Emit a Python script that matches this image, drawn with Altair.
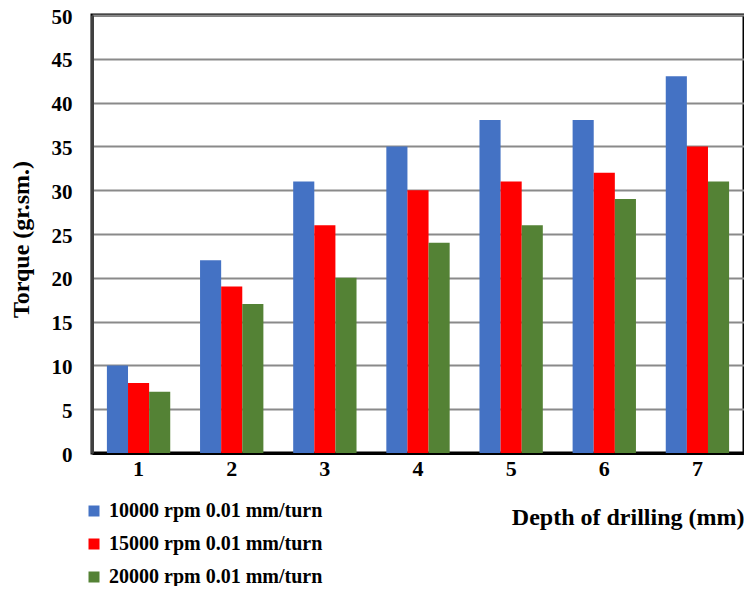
import altair as alt
import pandas as pd

depths = ["1", "2", "3", "4", "5", "6", "7"]
series_names = ["10000 rpm 0.01 mm/turn", "15000 rpm 0.01 mm/turn", "20000 rpm 0.01 mm/turn"]
s10000 = [10, 22, 31, 35, 38, 38, 43]
s15000 = [8, 19, 26, 30, 31, 32, 35]
s20000 = [7, 17, 20, 24, 26, 29, 31]
colors = ["#4472C4", "#FF0000", "#548235"]

rows = []
for name, vals in zip(series_names, [s10000, s15000, s20000]):
    for d, v in zip(depths, vals):
        rows.append({"depth": d, "series": name, "torque": v})
df = pd.DataFrame(rows)

FONT = "Liberation Serif"

chart = alt.Chart(df).mark_bar().encode(
    x=alt.X("depth:N", sort=depths,
            scale=alt.Scale(paddingInner=0.32, paddingOuter=0.16),
            axis=alt.Axis(title="Depth of drilling (mm)", labelAngle=0, ticks=False,
                          domainColor="black", domainWidth=3, labelPadding=5,
                          labelFont=FONT, labelFontSize=22, labelFontWeight="bold",
                          labelColor="black",
                          titleFont=FONT, titleFontSize=24, titleFontWeight="bold",
                          titleColor="black", titleX=652, titleY=64, titleAlign="right",
                          titleAnchor="end", titleBaseline="middle", titleLimit=400)),
    xOffset=alt.XOffset("series:N", sort=series_names),
    y=alt.Y("torque:Q",
            scale=alt.Scale(domain=[0, 50], nice=False),
            axis=alt.Axis(title="Torque (gr.sm.)", values=list(range(0, 51, 5)),
                          ticks=False, labelPadding=20, labelOffset=2,
                          domainColor="#404040", domainWidth=3,
                          gridColor="#8a8a8a", gridWidth=2,
                          labelFont=FONT, labelFontSize=21, labelFontWeight="bold",
                          labelColor="black",
                          titleFont=FONT, titleFontSize=24, titleFontWeight="bold",
                          titleColor="black", titleX=-71, titleY=224, titleAngle=270,
                          titleAlign="center", titleBaseline="middle", titleLimit=400)),
    color=alt.Color("series:N", sort=series_names,
                    scale=alt.Scale(domain=series_names, range=colors),
                    legend=alt.Legend(title=None, orient="none", legendX=-8, legendY=486,
                                      symbolType="square", symbolSize=121,
                                      symbolStrokeWidth=0, labelOffset=5,
                                      rowPadding=13, labelFont=FONT, labelFontSize=20,
                                      labelFontWeight="bold", labelColor="black",
                                      labelLimit=400)),
).properties(
    width=652, height=438,
    autosize=alt.AutoSizeParams(type="none"),
    padding={"left": 84, "top": 7, "right": 0, "bottom": 133},
).configure_view(stroke="black", strokeWidth=3)

chart.save("out.html", embed_options={"renderer": "svg", "actions": False})
